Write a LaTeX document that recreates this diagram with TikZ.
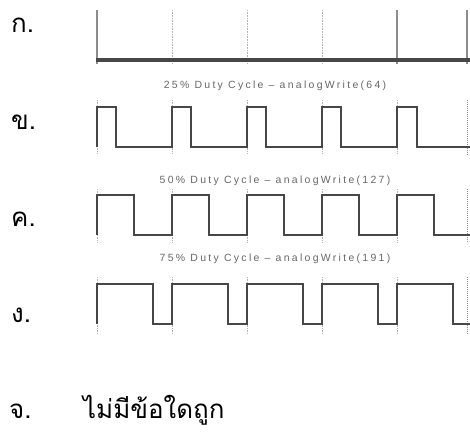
\documentclass[tikz,border=0pt]{standalone}
\usepackage{fontspec}
\newfontfamily\thaifont[Script=Thai]{Loma}
\newfontfamily\capfont[LetterSpace=22]{Liberation Sans}
\begin{document}
\begin{tikzpicture}[x=1bp,y=-1bp,
  wave/.style={draw=black!72,line width=2.8bp,line join=miter},
  grid/.style={draw=black!30,line width=0.6bp,densely dotted},
  edgegrid/.style={draw=black!45,line width=1bp,densely dotted},
  thickgrid/.style={draw=black!45,line width=1.6bp},
  lbl/.style={font=\thaifont\fontsize{26}{30}\selectfont,anchor=base west,inner sep=0pt},
  captext/.style={font=\capfont\fontsize{10.5}{12}\selectfont,text=black!60,inner sep=0pt}]
\useasboundingbox (0,0) rectangle (470,431);
% labels
\node[lbl] (la) at (11,32) {ก.};
\node[lbl] (lb) at (11,129) {ข.};
\node[lbl] (lc) at (11,226) {ค.};
\node[lbl] (ld) at (11,322) {ง.};
\node[lbl] (le) at (9,418) {จ.};
\node[lbl] (lt) at (83,418) {ไม่มีข้อใดถูก};
% panel a : 0%
\foreach \x in {172,247,322} \draw[grid] (\x,10) -- (\x,64);
\foreach \x in {97,397,467} \draw[thickgrid] (\x,10) -- (\x,64);
\draw[wave,line width=3.4bp] (96,60) -- (470,60);
% captions
\node[captext] (ca) at (275,86) {25\% Duty Cycle – analogWrite(64)};
\node[captext] (cb) at (275,181) {50\% Duty Cycle – analogWrite(127)};
\node[captext] (cc) at (275,259) {75\% Duty Cycle – analogWrite(191)};
% grids
\foreach \x in {97,172,247,322,397} {
  \draw[grid] (\x,100) -- (\x,154);
  \draw[grid] (\x,189) -- (\x,242);
  \draw[grid] (\x,277) -- (\x,333);
}
\draw[edgegrid] (467,100) -- (467,154);
\draw[edgegrid] (467,189) -- (467,242);
\draw[edgegrid] (467,277) -- (467,333);
% panel b : 25%
\draw[wave] (97,147)
  \foreach \x in {97,172,247,322} { -- (\x,107) -- (\x+19,107) -- (\x+19,147) -- (\x+75,147) }
  -- (397,107) -- (417,107) -- (417,147) -- (470,147);
% panel c : 50%
\draw[wave] (97,235)
  \foreach \x in {97,172,247,322} { -- (\x,195) -- (\x+37,195) -- (\x+37,235) -- (\x+75,235) }
  -- (397,195) -- (434,195) -- (434,235) -- (470,235);
% panel d : 75%
\draw[wave] (97,324)
  \foreach \x in {97,172,247,322} { -- (\x,284) -- (\x+56,284) -- (\x+56,324) -- (\x+75,324) }
  -- (397,284) -- (453,284) -- (453,324) -- (470,324);
\end{tikzpicture}
\end{document}
